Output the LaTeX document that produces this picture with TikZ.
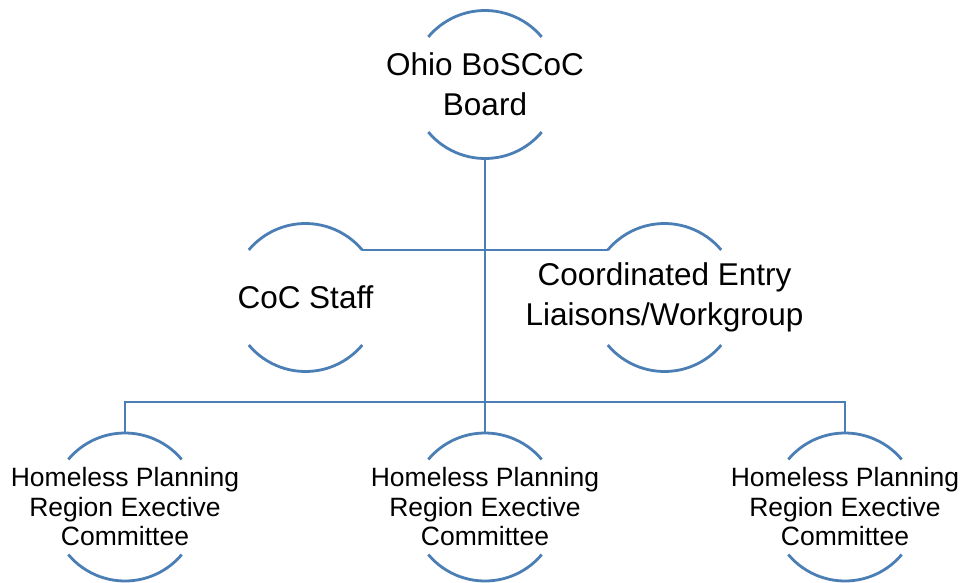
\documentclass[tikz,border=0pt]{standalone}
\usepackage{fontspec}
\setmainfont{Liberation Sans}
\definecolor{orgblue}{RGB}{74,126,180}
\begin{document}
\begin{tikzpicture}[x=1pt,y=1pt,
  orb/.style={circle,draw=none,minimum size=148pt,inner sep=0pt,outer sep=0pt},
  arcline/.style={draw=orgblue,line width=2.8pt},
  link/.style={draw=orgblue,line width=2.8pt},
  bigtxt/.style={align=center,font=\fontsize{31.5}{40}\selectfont,inner sep=0pt},
  smalltxt/.style={align=center,font=\fontsize{26.5}{29.5}\selectfont,inner sep=0pt}]
\useasboundingbox (0,0) rectangle (962,-582);

% circles (only their top and bottom arcs are drawn)
\node[orb] (board) at (485,-84.5) {};
\node[orb] (staff) at (305.5,-297.5) {};
\node[orb] (entry) at (664.5,-297.5) {};
\node[orb] (hpa) at (125,-507) {};
\node[orb] (hpb) at (485,-507) {};
\node[orb] (hpc) at (845,-507) {};

\foreach \c in {board,staff,entry,hpa,hpb,hpc}{
  \draw[arcline] (\c.40) arc[start angle=40,end angle=140,radius=74pt];
  \draw[arcline] (\c.220) arc[start angle=220,end angle=320,radius=74pt];
}

% labels
\node[bigtxt] (boardt) at (board.center) {Ohio BoSCoC\\Board};
\node[bigtxt] (stafft) at (staff.center) {CoC Staff};
\node[bigtxt] (entryt) at (entry.center) {Coordinated Entry\\Liaisons/Workgroup};
\node[smalltxt] (hpat) at (hpa.center) {Homeless Planning\\Region Exective\\Committee};
\node[smalltxt] (hpbt) at (hpb.center) {Homeless Planning\\Region Exective\\Committee};
\node[smalltxt] (hpct) at (hpc.center) {Homeless Planning\\Region Exective\\Committee};

% connectors
\coordinate (bus) at (485,-402);
\draw[link] (board.south) -- (hpb.north);
\draw[link] (staff.40) -- (entry.140);
\draw[link] (hpa.north) -- (hpa.north |- bus) -- (hpc.north |- bus) -- (hpc.north);
\end{tikzpicture}
\end{document}
